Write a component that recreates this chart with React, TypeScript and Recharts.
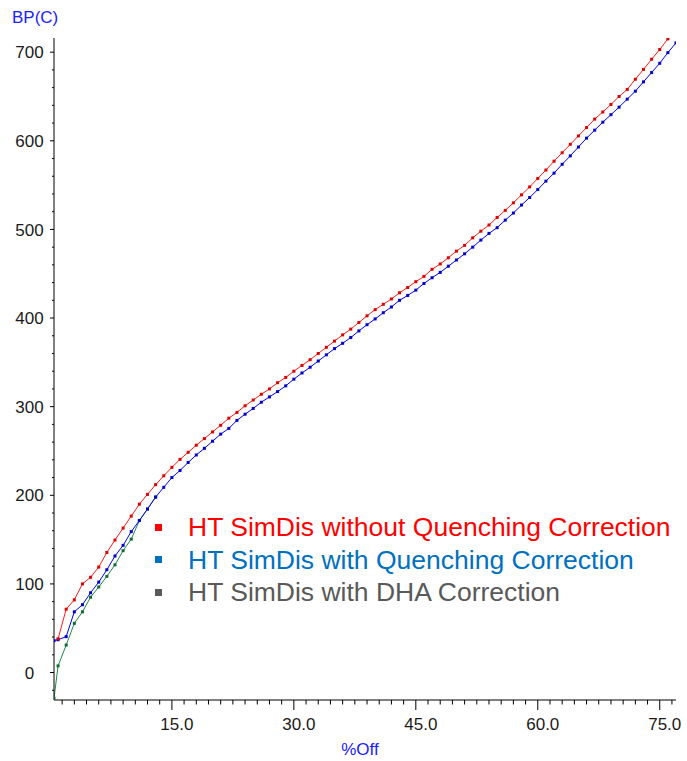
import React from 'react'
import { LineChart, Line, XAxis, YAxis, Legend } from 'recharts'

// %Off positions (x) shared by all three curves
const PCT_OFF = [
  0.5, 1, 2, 3, 4, 5, 6, 7, 8, 9,
  10, 11, 12, 13, 14, 15, 16, 17, 18, 19,
  20, 21, 22, 23, 24, 25, 26, 27, 28, 29,
  30, 31, 32, 33, 34, 35, 36, 37, 38, 39,
  40, 41, 42, 43, 44, 45, 46, 47, 48, 49,
  50, 51, 52, 53, 54, 55, 56, 57, 58, 59,
  60, 61, 62, 63, 64, 65, 66, 67, 68, 69,
  70, 71, 72, 73, 74, 75, 76, 77,
]

// HT SimDis without Quenching Correction (red)
const BP_NO_QUENCH = [
  null, 38, 71.5, 82, 100, 107.5, 119, 135.5, 149.5, 163,
  176.5, 190, 201, 212, 222, 231.5, 240.5, 248.5, 256.5, 264,
  271.5, 279, 287, 293.5, 301, 307.5, 314, 320, 327, 333,
  340, 346.5, 353, 360, 367, 374, 381, 387.5, 395, 402.5,
  409.5, 415.5, 421.5, 428.5, 434.5, 441, 447, 455, 461, 468,
  475.5, 482, 490.5, 498, 505, 513.5, 521.5, 530, 539, 548,
  557.5, 567, 577, 586.5, 596, 605.5, 615, 624.5, 632.5, 641,
  650, 658, 669.5, 680.5, 692, 703, 715,
]

// HT SimDis with Quenching Correction (blue)
const BP_QUENCH = [
  36, 37, 40.5, 68.5, 76.5, 90, 102, 116, 131.5, 143.5,
  159, 171.5, 184.5, 198, 209, 220, 228, 237, 245.5, 253,
  261, 269, 275.5, 284.5, 291.5, 298, 305, 311, 317, 323.5,
  331, 338, 344.5, 351.5, 358.5, 365.5, 371.5, 378, 385.5, 392.5,
  399, 406, 412.5, 420, 425.5, 431.5, 439, 445.5, 451.5, 458.5,
  465.5, 472.5, 480, 488, 495.5, 502, 510.5, 518.5, 527.5, 536,
  545, 554.5, 563.5, 573.5, 583, 593, 603, 612, 621, 629.5,
  638, 647, 656, 666.5, 677, 687.5, 699.5, 710.5,
]

// HT SimDis with DHA Correction (green) - joins the blue curve after ~11 %Off
const BP_DHA = [
  -29, 7.5, 31, 55.5, 68.5, 85, 96.5, 108.5, 121.5, 137.5,
  150.5, 171.5, 184.5, 198,
]

const SERIES_NAMES = [
  'HT SimDis without Quenching Correction',
  'HT SimDis with Quenching Correction',
  'HT SimDis with DHA Correction',
]

const X_LABELS = [15, 30, 45, 60, 75]
const Y_LABELS = [0, 100, 200, 300, 400, 500, 600, 700]
const X_MINOR_STEP = 1.5
const Y_MINOR_STEP = 20

const xTicks = Array.from({ length: 51 }, (_, i) => +((i + 1) * X_MINOR_STEP).toFixed(1))
const yTicks = Array.from({ length: 37 }, (_, i) => -20 + i * Y_MINOR_STEP)

const data = PCT_OFF.map((x, i) => ({
  x,
  red: BP_NO_QUENCH[i] ?? null,
  blue: BP_QUENCH[i] ?? null,
  green: BP_DHA[i] ?? null,
}))

const FONT = 'Liberation Sans, Arial, sans-serif'
const LEGEND_COLORS = ['#ff0000', '#0070c0', '#595959']

const XTick = ({ x, y, payload }: any) => {
  const v = payload.value
  const major = X_LABELS.includes(v)
  return (
    <g>
      <line x1={x} x2={x} y1={y} y2={y + (major ? 10 : 4.5)} stroke="#000" strokeWidth={1} />
      {major && (
        <text x={x + 5} y={y + 30} textAnchor="middle" fontSize={17} fontFamily={FONT} fill="#1a1a1a">
          {v.toFixed(1)}
        </text>
      )}
    </g>
  )
}

const YTick = ({ x, y, payload }: any) => {
  const v = payload.value
  const major = Y_LABELS.includes(v)
  return (
    <g>
      <line x1={x - (major ? 4 : 2)} x2={x} y1={y} y2={y} stroke="#000" strokeWidth={1} />
      {major && (
        <text x={x - 24.5} y={y + 6.2} textAnchor="middle" fontSize={17} fontFamily={FONT} fill="#1a1a1a">
          {v}
        </text>
      )}
    </g>
  )
}

const squareDot = (color: string) => (props: any) => {
  const { cx, cy, index } = props
  if (cx == null || cy == null) return <g key={`d-${index}`} />
  return <rect key={`d-${index}`} x={cx - 1.5} y={cy - 1.5} width={3} height={3} fill={color} />
}

const renderLegend = () => (
  <div style={{ fontFamily: FONT, fontSize: 26.5 }}>
    {SERIES_NAMES.map((name, i) => (
      <div key={name} style={{ display: 'flex', alignItems: 'center', height: 32.5, lineHeight: '32.5px', whiteSpace: 'nowrap' }}>
        <span style={{ display: 'inline-block', width: 7, height: 7, background: LEGEND_COLORS[i], marginLeft: 5, marginRight: 26 }} />
        <span style={{ color: LEGEND_COLORS[i] }}>{name}</span>
      </div>
    ))}
  </div>
)

export default function App() {
  return (
    <div style={{ position: 'absolute', left: 0, top: 0, width: 687, height: 761, background: '#fff' }}>
      <LineChart width={687} height={761} data={data} margin={{ top: 38, right: 11, left: 0, bottom: 0 }}>
        <XAxis
          type="number"
          dataKey="x"
          domain={[0.5, 77]}
          ticks={xTicks}
          interval={0}
          tick={<XTick />}
          tickLine={false}
          tickSize={0}
          tickMargin={0}
          height={61}
          axisLine={{ stroke: '#000' }}
          allowDataOverflow
          label={{
            content: () => (
              <text x={360} y={755} textAnchor="middle" fontSize={17} fontFamily={FONT} fill="#2020ff">
                %Off
              </text>
            ),
          }}
        />
        <YAxis
          type="number"
          domain={[-31, 716]}
          ticks={yTicks}
          interval={0}
          tick={<YTick />}
          tickLine={false}
          tickSize={0}
          tickMargin={0}
          width={54}
          axisLine={{ stroke: '#000' }}
          allowDataOverflow
          label={{
            content: () => (
              <text x={12} y={23} textAnchor="start" fontSize={17} fontFamily={FONT} fill="#2020ff">
                BP(C)
              </text>
            ),
          }}
        />
        <Legend
          layout="vertical"
          align="center"
          verticalAlign="middle"
          content={renderLegend}
          wrapperStyle={{ left: 150, top: 511, width: 540 }}
        />
        <Line
          dataKey="green"
          name={SERIES_NAMES[2]}
          stroke="#1e8a4a"
          strokeWidth={1}
          dot={squareDot('#0d6b33')}
          activeDot={false}
          connectNulls={false}
          isAnimationActive={false}
        />
        <Line
          dataKey="blue"
          name={SERIES_NAMES[1]}
          stroke="#0000ff"
          strokeWidth={1}
          dot={squareDot('#0000c8')}
          activeDot={false}
          connectNulls={false}
          isAnimationActive={false}
        />
        <Line
          dataKey="red"
          name={SERIES_NAMES[0]}
          stroke="#ff1a1a"
          strokeWidth={1}
          dot={squareDot('#e00000')}
          activeDot={false}
          connectNulls={false}
          isAnimationActive={false}
        />
      </LineChart>
    </div>
  )
}
